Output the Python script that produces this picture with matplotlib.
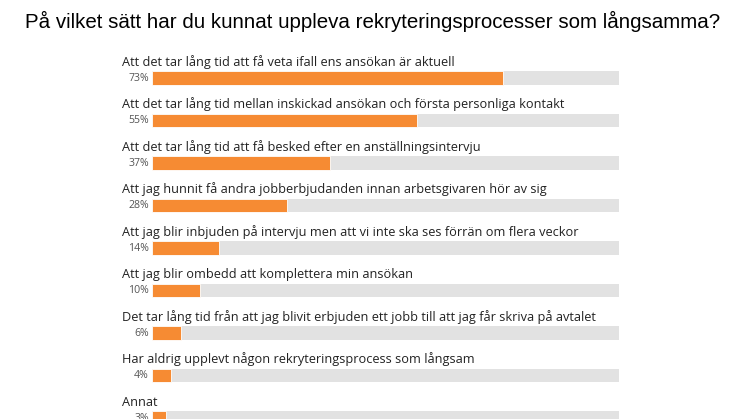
import matplotlib.pyplot as plt
from matplotlib.transforms import blended_transform_factory

title = "På vilket sätt har du kunnat uppleva rekryteringsprocesser som långsamma?"
categories = [
    "Att det tar lång tid att få veta ifall ens ansökan är aktuell",
    "Att det tar lång tid mellan inskickad ansökan och första personliga kontakt",
    "Att det tar lång tid att få besked efter en anställningsintervju",
    "Att jag hunnit få andra jobberbjudanden innan arbetsgivaren hör av sig",
    "Att jag blir inbjuden på intervju men att vi inte ska ses förrän om flera veckor",
    "Att jag blir ombedd att komplettera min ansökan",
    "Det tar lång tid från att jag blivit erbjuden ett jobb till att jag får skriva på avtalet",
    "Har aldrig upplevt någon rekryteringsprocess som långsam",
    "Annat",
]
values = [73, 55, 37, 28, 14, 10, 6, 4, 3]
labels = ["73%", "55%", "37%", "28%", "14%", "10%", "6%", "4%", "3%"]

W, H = 746, 419
xmax = 97
fig = plt.figure(figsize=(W / 100, H / 100), dpi=100)
# axes spans the bar track horizontally and the whole figure vertically
ax = fig.add_axes([152 / W, 0, (619 - 152) / W, 1])
row = 42.5
ax.set_ylim((H - 78) / row, -78 / row)
ax.set_xlim(0, xmax)
ax.axis("off")

ypos = list(range(len(values)))
ax.barh(ypos, [xmax] * len(values), height=0.31, color="#e2e2e2", left=0)
ax.barh(ypos, values, height=0.31, color="#f68b33", edgecolor="white", linewidth=0.6)

tr = blended_transform_factory(fig.transFigure, ax.transData)
for y, cat, lab in zip(ypos, categories, labels):
    ax.text(122 / W, y - 0.29, cat, transform=tr, fontsize=9.2,
            family="Open Sans", color="#222222", va="baseline", ha="left")
    ax.text(149 / W, y, lab, transform=tr, fontsize=7.6,
            family="Open Sans", color="#555555", va="center", ha="right")

fig.text(0.5, 1 - 21 / H, title, ha="center", va="center",
         fontsize=14.8, family="Liberation Sans", color="black")

fig.savefig("out.png", dpi=100)
